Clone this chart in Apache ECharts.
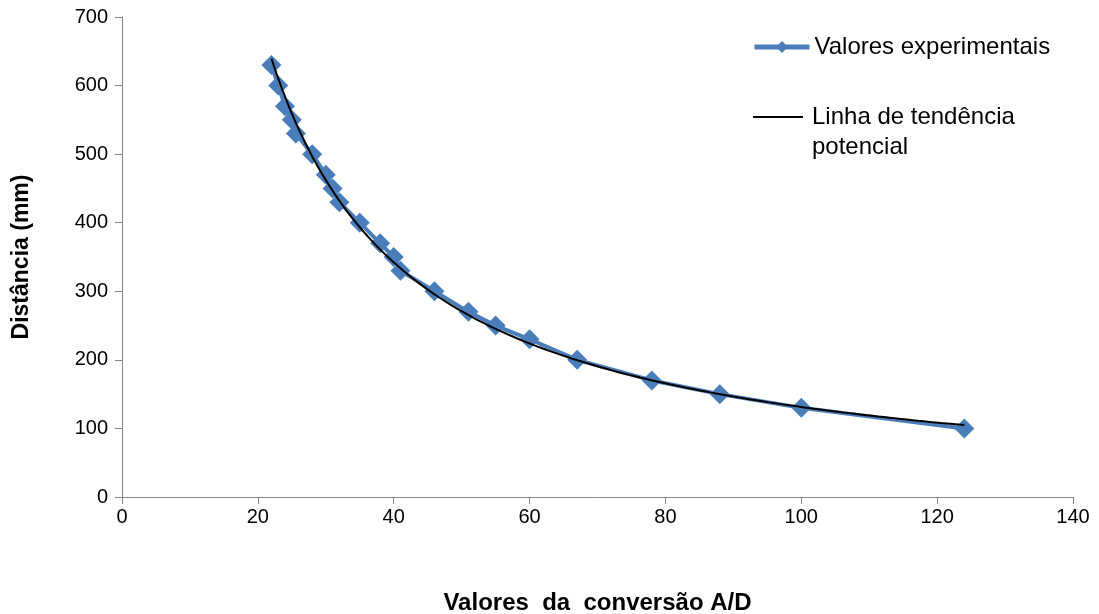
<!DOCTYPE html>
<html><head><meta charset="utf-8">
<script src="https://cdn.jsdelivr.net/npm/echarts@6/dist/echarts.min.js"></script>
<style>html,body{margin:0;padding:0;background:#fff}#c{width:1099px;height:614px}</style>
</head><body><div id="c"></div>
<script>
const adValues = [22, 23, 24, 25, 25.6, 28, 30, 31, 32, 35, 38, 40, 41, 46, 51, 55, 60, 67, 78, 88, 100, 124];
const distances = [630, 600, 570, 550, 530, 500, 470, 450, 430, 400, 370, 350, 330, 300, 270, 250, 230, 200, 170, 150, 130, 100];
const xTicks = [0, 20, 40, 60, 80, 100, 120, 140];
const yTicks = [0, 100, 200, 300, 400, 500, 600, 700];
const seriesNames = ['Valores experimentais', 'Linha de tendência potencial'];

// power trendline y = a*x^b fitted by least squares on log-log (as Excel does)
const n = adValues.length;
let sx=0, sy=0, sxx=0, sxy=0;
for (let i=0;i<n;i++){const lx=Math.log(adValues[i]), ly=Math.log(distances[i]); sx+=lx; sy+=ly; sxx+=lx*lx; sxy+=lx*ly;}
const b = (n*sxy - sx*sy)/(n*sxx - sx*sx);
const a = Math.exp((sy - b*sx)/n);
const xMin = Math.min(...adValues), xMax = Math.max(...adValues);
const trend = [];
for (let k=0;k<=120;k++){const x = xMin + (xMax-xMin)*k/120; trend.push([x, a*Math.pow(x,b)]);}

const chart = echarts.init(document.getElementById('c'));
const font = 'Liberation Sans, Arial, sans-serif';
chart.setOption({
  animation:false,
  textStyle:{fontFamily:font},
  grid:{left:122, right:26, top:17, bottom:117, containLabel:false, outerBoundsMode:'none'},
  legend:[
    {data:[seriesNames[0]], left:752, top:32, padding:0, itemWidth:55, itemHeight:15,
     lineStyle:{width:5, color:'#4a7ebb'}, itemStyle:{color:'#4a7ebb'},
     textStyle:{fontSize:24, color:'#000', fontFamily:font, lineHeight:30}},
    {data:[{name:seriesNames[1], icon:'rect'}], left:753, top:72, padding:0, itemWidth:50, itemHeight:2,
     formatter: () => ' \nLinha de tendência\npotencial',
     textStyle:{fontSize:24, color:'#000', fontFamily:font, lineHeight:30, padding:[0,0,0,4]}}
  ],
  xAxis:{type:'value', min:xTicks[0], max:xTicks[xTicks.length-1], interval:20,
    name:'Valores  da  conversão A/D', nameLocation:'middle', nameGap:94,
    nameTextStyle:{fontSize:24, fontWeight:'bold', color:'#000'},
    axisLine:{lineStyle:{color:'#868686', width:1}}, axisTick:{show:true, length:7, lineStyle:{color:'#868686'}},
    axisLabel:{fontSize:20, color:'#000', margin:10}, splitLine:{show:false}},
  yAxis:{type:'value', min:yTicks[0], max:yTicks[yTicks.length-1], interval:100,
    name:'Distância (mm)', nameLocation:'middle', nameGap:89, nameRotate:90,
    nameTextStyle:{fontSize:23, fontWeight:'bold', color:'#000'},
    axisLine:{show:true, lineStyle:{color:'#868686', width:1}}, axisTick:{show:true, length:7, lineStyle:{color:'#868686'}},
    axisLabel:{fontSize:20, color:'#000', margin:14}, splitLine:{show:false}},
  series:[
    {name:seriesNames[0], type:'line', data:adValues.map((x,i)=>[x,distances[i]]),
     symbol:'diamond', symbolSize:20, lineStyle:{color:'#4a7ebb', width:4}, itemStyle:{color:'#4a7ebb'}, z:2},
    {name:seriesNames[1], type:'line', data:trend, symbol:'none',
     lineStyle:{color:'#000', width:2}, itemStyle:{color:'#000'}, z:3}
  ]
});
</script></body></html>
